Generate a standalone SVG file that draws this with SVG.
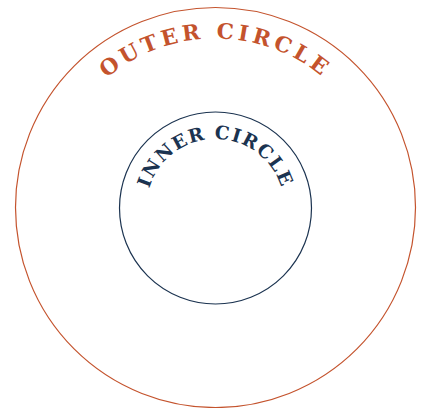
<svg xmlns="http://www.w3.org/2000/svg" width="425" height="408" viewBox="0 0 425 408">
<style>
.outer{fill:none;stroke:#c4532d;stroke-width:1.2}
.inner{fill:none;stroke:#1b3350;stroke-width:1.2}
.lbl{font-family:"DejaVu Serif","Liberation Serif",serif;font-weight:bold}
.lo{fill:#c4532d;font-size:21.5px;letter-spacing:4px}
.li{fill:#1b3350;font-size:18.5px;letter-spacing:1.5px}
</style>
<defs>
<path id="po" d="M215.5,376.5 A169,169 0 1 1 215.5,38.5 A169,169 0 1 1 215.5,376.5"/>
<path id="pi" d="M215.5,277 A69,69 0 1 1 215.5,139 A69,69 0 1 1 215.5,277"/>
</defs>
<g id="outer-circle">
<circle class="outer" cx="215.5" cy="207.5" r="200"/>
<text class="lbl lo"><textPath href="#po" startOffset="50%" text-anchor="middle">OUTER CIRCLE</textPath></text>
</g>
<g id="inner-circle">
<circle class="inner" cx="215.5" cy="208" r="96"/>
<text class="lbl li"><textPath href="#pi" startOffset="50%" text-anchor="middle">INNER CIRCLE</textPath></text>
</g>
<g id="connectors"/>
</svg>
